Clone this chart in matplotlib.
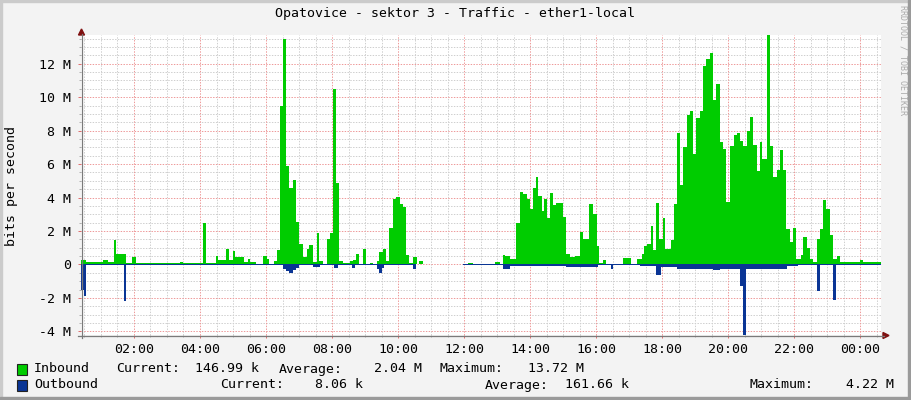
import numpy as np
import matplotlib
matplotlib.use("Agg")
import matplotlib.pyplot as plt
from matplotlib.patches import Rectangle, Polygon
from matplotlib.lines import Line2D

TITLE = "Opatovice - sektor 3 - Traffic - ether1-local"
Y_LABEL = "bits per second"
WATERMARK = "RRDTOOL / TOBI OETIKER"

# time in hours since midnight (step starts), values in Mbit/s
in_t = [0.394, 0.545, 1.061, 1.212, 1.394, 1.455, 1.758, 1.939, 2.061, 2.364,
        2.485, 2.788, 2.970, 3.091, 3.182, 3.394, 3.485, 4.091, 4.182, 4.485,
        4.545, 4.803, 4.879, 5.000, 5.061, 5.333, 5.455, 5.515, 5.697, 5.909,
        6.030, 6.091, 6.242, 6.333, 6.424, 6.515, 6.606, 6.697, 6.818, 6.909,
        7.000, 7.121, 7.242, 7.303, 7.424, 7.545, 7.606, 7.727, 7.848, 7.939,
        8.030, 8.121, 8.212, 8.333, 8.545, 8.636, 8.727, 8.818, 8.939, 9.030,
        9.152, 9.242, 9.364, 9.424, 9.545, 9.636, 9.727, 9.848, 9.939, 10.061,
        10.152, 10.242, 10.333, 10.455, 10.576, 10.636, 10.758, 11.061, 11.970, 12.121,
        12.273, 12.939, 13.091, 13.182, 13.242, 13.394, 13.576, 13.697, 13.788, 13.909,
        14.000, 14.091, 14.182, 14.242, 14.364, 14.424, 14.515, 14.606, 14.697, 14.788,
        15.000, 15.091, 15.212, 15.364, 15.515, 15.606, 15.788, 15.909, 16.030, 16.091,
        16.212, 16.303, 16.818, 17.061, 17.242, 17.394, 17.455, 17.545, 17.667, 17.727,
        17.818, 17.909, 18.030, 18.091, 18.273, 18.364, 18.455, 18.545, 18.636, 18.758,
        18.848, 18.939, 19.030, 19.152, 19.242, 19.333, 19.455, 19.545, 19.636, 19.758,
        19.848, 19.939, 20.061, 20.182, 20.273, 20.364, 20.455, 20.576, 20.667, 20.758,
        20.879, 20.970, 21.030, 21.182, 21.273, 21.364, 21.485, 21.576, 21.667, 21.758,
        21.879, 21.970, 22.061, 22.212, 22.273, 22.394, 22.485, 22.576, 22.697, 22.788,
        22.879, 22.970, 23.091, 23.182, 23.303, 23.394, 24.000, 24.091]
in_v = [0.28, 0.13, 0.25, 0.13, 1.45, 0.65, 0.08, 0.45, 0.08, 0.10,
        0.06, 0.10, 0.06, 0.10, 0.06, 0.15, 0.06, 2.45, 0.08, 0.50,
        0.25, 0.90, 0.25, 0.78, 0.42, 0.15, 0.30, 0.15, 0.05, 0.48,
        0.33, 0.05, 0.20, 0.85, 9.45, 13.50, 5.90, 4.60, 5.05, 2.55,
        1.20, 0.45, 0.95, 1.15, 0.15, 1.85, 0.20, 0.05, 1.55, 1.85,
        10.50, 4.85, 0.20, 0.10, 0.20, 0.25, 0.60, 0.05, 0.90, 0.05,
        0.10, 0.05, 0.20, 0.75, 0.90, 0.20, 2.20, 3.90, 4.05, 3.60,
        3.45, 0.55, 0.10, 0.45, 0.05, 0.20, 0.10, np.nan, 0.05, 0.10,
        0.05, 0.15, 0.05, 0.55, 0.50, 0.35, 2.45, 4.35, 4.20, 3.90,
        3.30, 4.60, 5.20, 4.10, 3.20, 3.90, 2.80, 4.30, 3.55, 3.70,
        2.85, 0.60, 0.45, 0.50, 1.95, 1.55, 3.60, 3.00, 1.10, 0.10,
        0.25, 0.05, 0.40, 0.05, 0.30, 0.60, 1.10, 1.20, 2.30, 0.85,
        3.70, 1.50, 2.75, 0.90, 1.45, 3.60, 7.85, 4.75, 7.05, 8.95,
        9.20, 6.60, 8.75, 9.20, 11.85, 12.30, 12.65, 9.85, 10.80, 7.30,
        6.90, 3.75, 7.10, 7.75, 7.85, 7.40, 7.10, 7.95, 8.80, 7.15,
        5.60, 7.30, 6.30, 13.72, 7.10, 5.25, 5.65, 6.85, 5.65, 2.10,
        1.35, 2.20, 0.30, 0.55, 1.65, 1.00, 0.35, 0.15, 1.50, 2.10,
        3.85, 3.30, 1.75, 0.30, 0.50, 0.15, 0.25, 0.15]

out_t = [0.394, 0.485, 0.545, 1.697, 1.758, 6.515, 6.606, 6.697, 6.818, 6.909,
         7.000, 7.424, 7.636, 8.061, 8.182, 8.606, 8.697, 9.364, 9.424, 9.515,
         9.576, 10.455, 10.545, 11.061, 11.970, 13.182, 13.394, 15.091, 16.061, 16.455,
         16.515, 17.333, 17.818, 17.970, 18.455, 19.242, 19.545, 19.758, 20.364, 20.455,
         20.545, 21.788, 22.121, 22.697, 22.788, 23.182, 23.273]
out_v = [-1.50, -1.90, -0.03, -2.20, -0.03, -0.30, -0.40, -0.50, -0.35, -0.20,
         -0.03, -0.15, -0.03, -0.20, -0.03, -0.20, -0.03, -0.25, -0.50, -0.20,
         -0.03, -0.25, -0.03, np.nan, -0.03, -0.25, -0.10, -0.15, -0.03, -0.30,
         -0.03, -0.10, -0.65, -0.15, -0.30, -0.25, -0.35, -0.25, -1.30, -4.22,
         -0.25, -0.10, -0.05, -1.60, -0.05, -2.15, -0.03]

t_start, t_end = 0.394, 24.636
y_min, y_max = -4.22, 13.72

x_ticks = [2, 4, 6, 8, 10, 12, 14, 16, 18, 20, 22, 24]
x_tick_labels = ["02:00", "04:00", "06:00", "08:00", "10:00", "12:00",
                 "14:00", "16:00", "18:00", "20:00", "22:00", "00:00"]
y_ticks = [-4, -2, 0, 2, 4, 6, 8, 10, 12]
y_tick_labels = ["-4 M", "-2 M", "0", "2 M", "4 M", "6 M", "8 M", "10 M", "12 M"]

series_names = ["Inbound", "Outbound"]
series_colors = ["#00CC00", "#0A3595"]
current = ["146.99 k", "8.06 k"]
average = ["2.04 M", "161.66 k"]
maximum = ["13.72 M", "4.22 M"]

W, H = 911, 400
MONO = "DejaVu Sans Mono"
FS = 9.5

fig = plt.figure(figsize=(W / 100, H / 100), dpi=100, facecolor="#F3F3F3")


def fx(x):
    return x / W


def fy(y):
    return 1 - y / H


ax = fig.add_axes([fx(81), fy(335), 800 / W, 300 / H])
ax.set_facecolor("white")
ax.set_xlim(t_start, t_end)
ax.set_ylim(y_min, y_max)
for s in ax.spines.values():
    s.set_visible(False)

# grid
minor_x = np.arange(0.5, 24.6, 0.5)
minor_y = np.arange(-4.0, 13.6, 0.5)
grid_ls = (0, (1.4, 1.4))
for xv in minor_x:
    if abs(xv / 2 - round(xv / 2)) > 1e-6:
        ax.axvline(xv, color="#CFCFCF", lw=0.72, ls=grid_ls, zorder=1)
for yv in minor_y:
    if abs(yv / 2 - round(yv / 2)) > 1e-6:
        ax.axhline(yv, color="#CFCFCF", lw=0.72, ls=grid_ls, zorder=1)
for xv in x_ticks:
    ax.axvline(xv, color="#EE9A9A", lw=0.72, ls=grid_ls, zorder=2)
for yv in y_ticks:
    ax.axhline(yv, color="#EE9A9A", lw=0.72, ls=grid_ls, zorder=2)

# data areas
ti = np.append(in_t, t_end)
vi = np.append(in_v, in_v[-1])
ax.fill_between(ti, vi, 0, step="post", color=series_colors[0], lw=0, zorder=3)
to = np.append(out_t, t_end)
vo = np.append(out_v, out_v[-1])
ax.fill_between(to, vo, 0, step="post", color=series_colors[1], lw=0, zorder=4)

# ticks
ax.set_xticks(x_ticks)
ax.set_xticklabels(x_tick_labels, fontfamily=MONO, fontsize=FS)
ax.set_yticks(y_ticks)
ax.set_yticklabels(y_tick_labels, fontfamily=MONO, fontsize=FS)
ax.set_xticks(minor_x, minor=True)
ax.set_yticks(minor_y, minor=True)
ax.tick_params(axis="both", which="major", length=2.5, width=0.72, color="#E07070",
               direction="out")
ax.tick_params(axis="x", which="major", pad=3.0)
ax.tick_params(axis="y", which="major", pad=4.5)
ax.tick_params(axis="both", which="minor", length=1.5, width=0.72, color="#B0B0B0",
               direction="out")

# axes lines and arrows
axis_col = "#7A7A7A"
arrow_col = "#7F1010"
fig.add_artist(Line2D([fx(81.5), fx(81.5)], [fy(338), fy(34)], color=axis_col, lw=0.9))
fig.add_artist(Line2D([fx(78), fx(884)], [fy(335.5), fy(335.5)], color=axis_col, lw=0.9))
fig.add_artist(Polygon([(fx(78.5), fy(35)), (fx(84.5), fy(35)), (fx(81.5), fy(29))],
                       closed=True, color=arrow_col, transform=fig.transFigure))
fig.add_artist(Polygon([(fx(883), fy(332.5)), (fx(883), fy(338.5)), (fx(889), fy(335.5))],
                       closed=True, color=arrow_col, transform=fig.transFigure))

# texts
fig.text(fx(455), fy(14), TITLE, ha="center", va="center", fontfamily=MONO, fontsize=FS,
         color="#000000")
fig.text(fx(12), fy(186), Y_LABEL, ha="center", va="center", rotation=90,
         fontfamily=MONO, fontsize=FS)
fig.text(fx(903), fy(5), WATERMARK, ha="center", va="top", rotation=270,
         fontfamily=MONO, fontsize=6, color="#AAAAAA")

# legend
rows_y = [369, 385]
pos = [
    [34, 116, 195, 279, 374, 440, 528],
    [34, 220, 315, 485, 565, 750, 846],
]
for i in range(2):
    yb = rows_y[i]
    fig.add_artist(Rectangle((fx(17), fy(yb + 5.5)), 10 / W, 11 / H, facecolor=series_colors[i],
                             edgecolor="#222222", lw=0.8, transform=fig.transFigure))
    parts = [series_names[i], "Current:", current[i], "Average:", average[i],
             "Maximum:", maximum[i]]
    for p, xpos in zip(parts, pos[i]):
        fig.text(fx(xpos), fy(yb), p, ha="left", va="center", fontfamily=MONO, fontsize=FS)

# 3D frame
fig.add_artist(Rectangle((0, fy(2)), 1, 2 / H, color="#CBCBCB", transform=fig.transFigure))
fig.add_artist(Rectangle((0, 0), 2 / W, 1, color="#CBCBCB", transform=fig.transFigure))
fig.add_artist(Rectangle((fx(908), 0), 3 / W, 1, color="#9A9A9A", transform=fig.transFigure))
fig.add_artist(Rectangle((0, 0), 1, 3 / H, color="#9A9A9A", transform=fig.transFigure))

fig.savefig("out.png", dpi=100, facecolor=fig.get_facecolor())
